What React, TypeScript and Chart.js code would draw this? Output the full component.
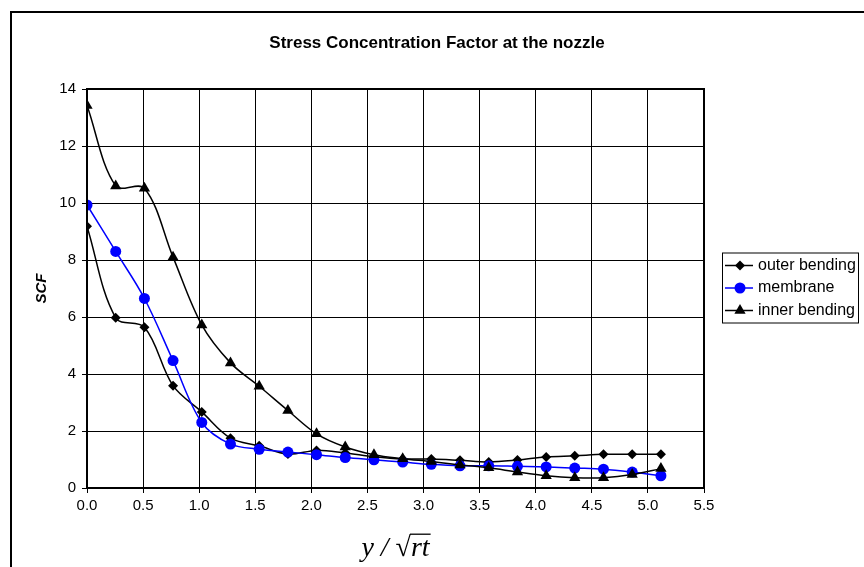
import React, { useEffect, useRef } from "react";
import { Chart, registerables } from "chart.js";

Chart.register(...registerables);

const titleText = "Stress Concentration Factor at the nozzle";
const xAxisTitle = "y / √rt";
const yAxisTitle = "SCF";

const xValues = [0, 0.256, 0.512, 0.767, 1.023, 1.279, 1.535, 1.791, 2.046, 2.302, 2.558, 2.814, 3.069, 3.325, 3.581, 3.837, 4.093, 4.348, 4.604, 4.86, 5.116];

const outerBending = [9.18, 5.97, 5.64, 3.59, 2.67, 1.75, 1.48, 1.19, 1.32, 1.23, 1.1, 1.02, 1.02, 0.97, 0.91, 0.98, 1.09, 1.13, 1.18, 1.18, 1.18];
const membrane = [9.93, 8.3, 6.65, 4.47, 2.3, 1.54, 1.36, 1.26, 1.17, 1.07, 0.99, 0.91, 0.83, 0.78, 0.78, 0.76, 0.74, 0.7, 0.66, 0.56, 0.43];
const innerBending = [13.42, 10.6, 10.52, 8.1, 5.72, 4.39, 3.57, 2.72, 1.9, 1.44, 1.17, 1.03, 0.93, 0.81, 0.71, 0.56, 0.43, 0.36, 0.36, 0.47, 0.68];

const seriesLabels = ["outer bending", "membrane", "inner bending"];
const seriesColors = ["#000000", "#0000ff", "#000000"];
const seriesMarkers = ["rectRot", "circle", "triangle"];
const markerRadius = [5, 5.5, 6.5];

const FONT = "Arial, 'Liberation Sans', sans-serif";
const SERIF = "'Liberation Serif', 'Times New Roman', serif";
const X_TITLE_SIZE = 28;

function drawMarker(ctx: CanvasRenderingContext2D, style: string, x: number, y: number, r: number) {
  ctx.beginPath();
  if (style === "circle") {
    ctx.arc(x, y, r, 0, Math.PI * 2);
  } else if (style === "rectRot") {
    ctx.moveTo(x, y - r);
    ctx.lineTo(x + r, y);
    ctx.lineTo(x, y + r);
    ctx.lineTo(x - r, y);
  } else {
    ctx.moveTo(x, y - r);
    ctx.lineTo(x + r * 0.866, y + r / 2);
    ctx.lineTo(x - r * 0.866, y + r / 2);
  }
  ctx.closePath();
  ctx.fill();
}

const framePlugin = {
  id: "frame",
  beforeDraw(chart: any) {
    const { ctx, width, height } = chart;
    ctx.save();
    ctx.fillStyle = "#ffffff";
    ctx.fillRect(0, 0, width, height);
    ctx.strokeStyle = "#000000";
    ctx.lineWidth = 2;
    ctx.strokeRect(11, 12, width + 20, height + 20);
    ctx.restore();
  },
  afterDraw(chart: any) {
    const { ctx, chartArea } = chart;
    ctx.save();
    ctx.strokeStyle = "#000000";
    ctx.lineWidth = 2;
    ctx.strokeRect(chartArea.left, chartArea.top, chartArea.right - chartArea.left, chartArea.bottom - chartArea.top);

    // radical bar over "rt" in the x-axis title
    const xs = chart.scales.x;
    ctx.font = "italic " + X_TITLE_SIZE + "px " + SERIF;
    const full = ctx.measureText(xAxisTitle).width;
    const pre = ctx.measureText("y / √").width;
    const cx = (xs.left + xs.right) / 2;
    const cyTitle = xs.bottom - 2 - (X_TITLE_SIZE * 1.2) / 2;
    const x0 = cx - full / 2 + pre - 1;
    const x1 = cx + full / 2 + 1;
    const yBar = cyTitle - X_TITLE_SIZE * 0.5;
    ctx.lineWidth = 1.3;
    ctx.beginPath();
    ctx.moveTo(x0, yBar);
    ctx.lineTo(x1, yBar);
    ctx.stroke();

    // legend
    const bx = chartArea.right + 18;
    const bw = 136;
    const bh = 70;
    const by = (chartArea.top + chartArea.bottom) / 2 - bh / 2 - 1;
    ctx.lineWidth = 1;
    ctx.strokeRect(bx + 0.5, by + 0.5, bw, bh);
    ctx.font = "16px " + FONT;
    ctx.textBaseline = "middle";
    ctx.textAlign = "left";
    seriesLabels.forEach((label, i) => {
      const cy = by + 13 + i * 22.5;
      ctx.strokeStyle = seriesColors[i];
      ctx.fillStyle = seriesColors[i];
      ctx.lineWidth = 1.5;
      ctx.beginPath();
      ctx.moveTo(bx + 3, cy);
      ctx.lineTo(bx + 31, cy);
      ctx.stroke();
      drawMarker(ctx, seriesMarkers[i], bx + 18, cy, markerRadius[i]);
      ctx.fillStyle = "#000000";
      ctx.fillText(label, bx + 36, cy);
    });
    ctx.restore();
  },
};

export default function App() {
  const ref = useRef<HTMLCanvasElement | null>(null);
  useEffect(() => {
    if (!ref.current) return;
    const seriesData = [outerBending, membrane, innerBending];
    const chart = new Chart(ref.current, {
      type: "line",
      data: {
        datasets: seriesData.map((vals, i) => ({
          label: seriesLabels[i],
          data: xValues.map((x, j) => ({ x, y: vals[j] })),
          borderColor: seriesColors[i],
          backgroundColor: seriesColors[i],
          pointBackgroundColor: seriesColors[i],
          pointBorderColor: seriesColors[i],
          pointStyle: seriesMarkers[i] as any,
          pointRadius: markerRadius[i],
          pointBorderWidth: 0,
          borderWidth: 1.5,
          tension: 0.35,
          fill: false,
          order: 3 - i,
          yAxisID: "y",
        })),
      },
      options: {
        animation: false,
        responsive: false,
        devicePixelRatio: 1,
        layout: { padding: { left: 10, right: 0, top: 0, bottom: 0 } },
        plugins: {
          legend: { display: false },
          tooltip: { enabled: false },
          title: {
            display: true,
            text: titleText,
            color: "#000000",
            font: { family: FONT, size: 17, weight: "bold" },
            padding: { top: 33, bottom: 35.6 },
          },
        },
        scales: {
          x: {
            type: "linear",
            min: 0,
            max: 5.5,
            ticks: {
              stepSize: 0.5,
              color: "#000000",
              font: { family: FONT, size: 15 },
              padding: 4,
              callback: (v: any) => Number(v).toFixed(1),
            },
            grid: { color: "#000000", lineWidth: 1, tickLength: 5 },
            border: { display: true, color: "#000000", width: 2 },
            title: {
              display: true,
              text: xAxisTitle,
              color: "#000000",
              font: { family: SERIF, size: X_TITLE_SIZE, style: "italic" },
              padding: { top: 0, bottom: 2 },
            },
            afterFit: (scale: any) => {
              scale.height = 79;
            },
          },
          y: {
            position: "left",
            min: 0,
            max: 14,
            ticks: {
              stepSize: 2,
              color: "#000000",
              font: { family: FONT, size: 15 },
              padding: 6,
            },
            grid: { color: "#000000", lineWidth: 1, tickLength: 5 },
            border: { display: true, color: "#000000", width: 2 },
            title: {
              display: true,
              text: yAxisTitle,
              color: "#000000",
              font: { family: FONT, size: 15, weight: "bold", style: "italic" },
              padding: { top: 23, bottom: 0 },
            },
            afterFit: (scale: any) => {
              scale.width = 77;
            },
          },
          spacer: {
            type: "linear",
            position: "right",
            display: true,
            ticks: { display: false },
            grid: { display: false, drawTicks: false },
            border: { display: false },
            afterFit: (scale: any) => {
              scale.width = 160;
            },
          },
        },
      },
      plugins: [framePlugin],
    });
    return () => chart.destroy();
  }, []);
  return (
    <div style={{ position: "fixed", left: 0, top: 0, width: 864, height: 567, overflow: "hidden", background: "#fff" }}>
      <canvas ref={ref} width={864} height={567} style={{ display: "block", width: 864, height: 567 }} />
    </div>
  );
}
